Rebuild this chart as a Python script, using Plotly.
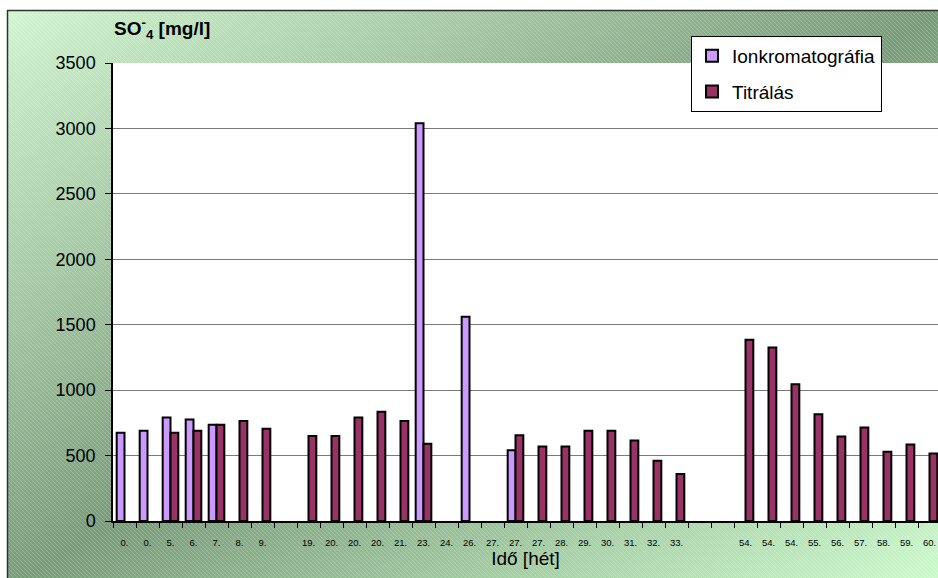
import base64
import plotly.graph_objects as go

# Week labels along the time axis (blank entries are empty slots on the axis)
week_labels = ["0.", "0.", "5.", "6.", "7.", "8.", "9.", "", "19.", "20.", "20.", "20.",
               "21.", "23.", "24.", "26.", "27.", "27.", "27.", "28.", "29.", "30.",
               "31.", "32.", "33.", "", "", "54.", "54.", "54.", "55.", "56.", "57.",
               "58.", "59.", "60."]

# Sulphate concentration, mg/l (None = no measurement)
ion_chrom = [675, 690, 790, 775, 735, None, None, None, None, None, None, None,
             None, 3040, None, 1560, None, 540, None, None, None, None,
             None, None, None, None, None, None, None, None, None, None, None,
             None, None, None]
titration = [None, None, 675, 690, 735, 765, 705, None, 650, 650, 790, 835,
             765, 590, None, None, None, 655, 570, 570, 690, 690,
             615, 460, 360, None, None, 1385, 1325, 1045, 815, 645, 715,
             530, 585, 515]

y_ticks = [0, 500, 1000, 1500, 2000, 2500, 3000, 3500]

W, H = 938, 578
ML, MT, MR, MB = 113, 63, 0, 57
PW, PH = W - ML - MR, H - MT - MB
slot_px = 23.0  # width of one week slot

x_pos = list(range(len(week_labels)))
x_max = -0.5 + PW / slot_px
label_pos = [i for i, lab in enumerate(week_labels) if lab]
label_txt = [week_labels[i] for i in label_pos]

FONT = "Liberation Sans, Arial, sans-serif"

# chart-area background: diagonal gradient with a fine hatch, white plot area
svg = f'''<svg xmlns="http://www.w3.org/2000/svg" width="{W}" height="{H}" viewBox="0 0 {W} {H}" preserveAspectRatio="none">
<defs>
<linearGradient id="g" x1="0" y1="0" x2="1" y2="1">
<stop offset="0" stop-color="#cff6cf"/>
<stop offset="0.5" stop-color="#789b78"/>
<stop offset="1" stop-color="#cdfdcd"/>
</linearGradient>
<pattern id="p" width="4" height="4" patternUnits="userSpaceOnUse">
<path d="M-1,-1 L5,5 M3,-1 L5,1 M-1,3 L1,5" stroke="#ffffff" stroke-opacity="0.3" stroke-width="0.7"/>
</pattern>
</defs>
<rect x="0" y="0" width="{W}" height="{H}" fill="#ffffff"/>
<rect x="7" y="10" width="{W}" height="{H}" fill="url(#g)"/>
<rect x="7" y="10" width="{W}" height="{H}" fill="url(#p)"/>
<line x1="7.5" y1="10" x2="7.5" y2="{H}" stroke="#303030" stroke-width="1.5"/>
<line x1="7" y1="10.5" x2="{W}" y2="10.5" stroke="#303030" stroke-width="1.5"/>
<rect x="{ML}" y="{MT}" width="{PW}" height="{PH}" fill="#ffffff"/>
</svg>'''
bg_src = "data:image/svg+xml;base64," + base64.b64encode(svg.encode()).decode()

fig = go.Figure()
fig.add_trace(go.Bar(
    x=x_pos, y=ion_chrom, name="Ionkromatográfia",
    marker=dict(color="#cc99ff", line=dict(color="#000000", width=2)),
    legendgroup="a",
))
fig.add_trace(go.Bar(
    x=x_pos, y=titration, name="Titrálás",
    marker=dict(color="#993366", line=dict(color="#000000", width=2)),
    legendgroup="b",
))

fig.update_layout(
    width=W, height=H,
    margin=dict(l=ML, r=MR, t=MT, b=MB, pad=0),
    paper_bgcolor="#ffffff",
    plot_bgcolor="#ffffff",
    barmode="group",
    bargap=0.32,
    bargroupgap=0,
    font=dict(family=FONT, color="#000000"),
    images=[dict(
        source=bg_src, xref="paper", yref="paper",
        x=-ML / PW, y=1 + MT / PH, sizex=W / PW, sizey=H / PH,
        xanchor="left", yanchor="top", sizing="stretch", layer="below",
    )],
    legend=dict(
        x=(691 - ML) / PW, y=(H - MB - 36) / PH, xanchor="left", yanchor="top",
        bgcolor="#ffffff", bordercolor="#000000", borderwidth=1,
        font=dict(family=FONT, size=19, color="#000000"),
        tracegroupgap=8, traceorder="grouped", itemwidth=30,
    ),
    xaxis=dict(
        range=[-0.5, x_max],
        tickvals=label_pos, ticktext=label_txt,
        ticks="outside", ticklen=12, tickcolor="rgba(0,0,0,0)",
        tickfont=dict(family=FONT, size=9.5, color="#000000"),
        minor=dict(tickvals=[i - 0.5 for i in x_pos] + [len(x_pos) - 0.5],
                   ticks="outside", ticklen=5, tickcolor="#000000", tickwidth=1,
                   showgrid=False),
        showline=True, linecolor="#000000", linewidth=1.5,
        showgrid=False, zeroline=False,
        title=dict(text="Idő [hét]", font=dict(family=FONT, size=19, color="#000000"),
                   standoff=4),
    ),
    yaxis=dict(
        range=[0, 3500], tickvals=y_ticks,
        ticks="outside", ticklen=6, tickcolor="#000000", tickwidth=1,
        ticklabelstandoff=6,
        tickfont=dict(family=FONT, size=18, color="#000000"),
        showline=True, linecolor="#000000", linewidth=1.5,
        showgrid=True, gridcolor="#7a7a7a", gridwidth=1.3,
        zeroline=False,
    ),
    annotations=[dict(
        text="<b>SO<sup>-</sup><sub>4</sub> [mg/l]</b>",
        xref="paper", yref="paper",
        x=(162 - ML) / PW, y=1 + (MT - 29) / PH,
        xanchor="center", yanchor="middle", showarrow=False,
        font=dict(family=FONT, size=19, color="#000000"),
    )],
)

fig.write_html("out.html")
